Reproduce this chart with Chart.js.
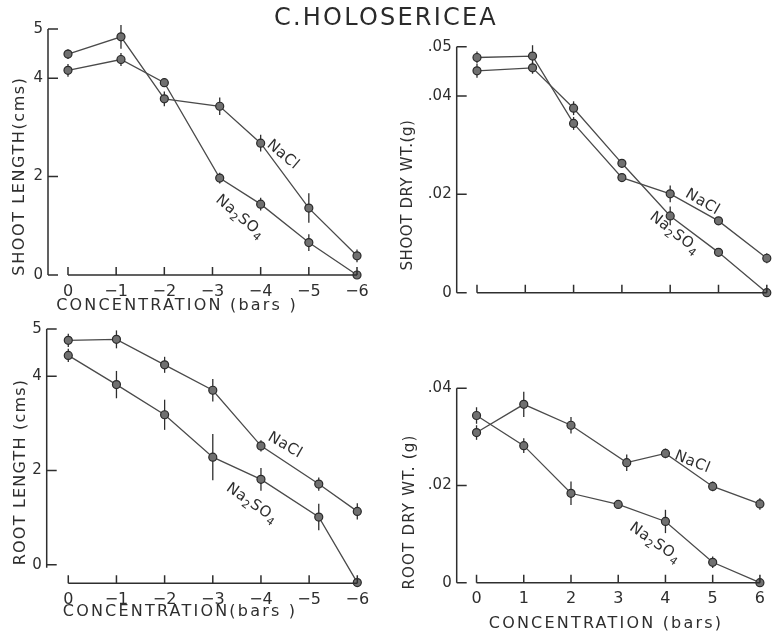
<!DOCTYPE html>
<html>
<head>
<meta charset="utf-8">
<title>C. holosericea salt response</title>
<script src="https://cdn.jsdelivr.net/npm/chart.js@4.4.1/dist/chart.umd.min.js"></script>
<style>
  body { margin: 0; background: #fff; }
  #page { position: relative; width: 772px; height: 635px; overflow: hidden; }
  #page canvas { position: absolute; }
  #title {
    position: absolute; left: 0; top: 3px; width: 772px; text-align: center;
    font: 24px "DejaVu Sans", sans-serif; letter-spacing: 2.2px; color: #2b2b2b;
  }
</style>
</head>
<body>
<div id="page">
  <canvas id="shootLen" width="386" height="315" style="left:0;top:0"></canvas>
  <canvas id="shootDry" width="386" height="315" style="left:386px;top:0"></canvas>
  <canvas id="rootLen" width="386" height="320" style="left:0;top:315px"></canvas>
  <canvas id="rootDry" width="386" height="320" style="left:386px;top:315px"></canvas>
  <div id="title">C.HOLOSERICEA</div>
</div>
<script>
// osmotic concentration of the medium (bars), one array per series
var shootLenConcNaCl   = [0, -1.1, -2, -3.15, -4, -5, -6];
var shootLenConcNa2SO4 = [0, -1.1, -2, -3.15, -4, -5, -6];
var shootDryConcNaCl   = [0, 1.15, 2, 3, 4, 5, 6];
var shootDryConcNa2SO4 = [0, 1.15, 2, 3, 4, 5, 6];
var rootLenConcNaCl    = [0, -1, -2, -3, -4, -5.2, -6];
var rootLenConcNa2SO4  = [0, -1, -2, -3, -4, -5.2, -6];
var rootDryConcNaCl    = [0, 1, 2, 3.18, 4, 5, 6];
var rootDryConcNa2SO4  = [0, 1, 2, 3, 4, 5, 6];

// shoot length (cms)
var shootLenNaCl      = [4.49, 4.84, 3.58, 3.43, 2.68, 1.36, 0.39];
var shootLenNaClErr   = [0.10, 0.24, 0.15, 0.18, 0.17, 0.30, 0.13];
var shootLenNa2SO4    = [4.16, 4.38, 3.91, 1.97, 1.44, 0.66, 0];
var shootLenNa2SO4Err = [0.13, 0.13, 0.09, 0.11, 0.13, 0.17, 0];

// shoot dry weight (g)
var shootDryNaCl      = [0.0478, 0.0481, 0.0344, 0.0234, 0.0201, 0.0146, 0.0070];
var shootDryNaClErr   = [0.0012, 0.0022, 0.0013, 0.0008, 0.0017, 0.0008, 0.0010];
var shootDryNa2SO4    = [0.0451, 0.0457, 0.0375, 0.0263, 0.0156, 0.0082, 0];
var shootDryNa2SO4Err = [0.0014, 0.0012, 0.0014, 0.0008, 0.0019, 0.0008, 0];

// root length (cms)
var rootLenNaCl       = [4.76, 4.78, 4.24, 3.70, 2.52, 1.71, 1.13];
var rootLenNaClErr    = [0.14, 0.19, 0.17, 0.24, 0.12, 0.14, 0.17];
var rootLenNa2SO4     = [4.44, 3.82, 3.18, 2.28, 1.81, 1.01, -0.38];
var rootLenNa2SO4Err  = [0.14, 0.29, 0.32, 0.49, 0.24, 0.28, 0];

// root dry weight (g)
var rootDryNaCl       = [0.0309, 0.0367, 0.0324, 0.0247, 0.0266, 0.0198, 0.0162];
var rootDryNaClErr    = [0.0015, 0.0026, 0.0017, 0.0017, 0.0010, 0.0010, 0.0012];
var rootDryNa2SO4     = [0.0344, 0.0282, 0.0184, 0.0161, 0.0126, 0.0042, 0];
var rootDryNa2SO4Err  = [0.0017, 0.0015, 0.0024, 0.0008, 0.0024, 0.0012, 0];

// tick positions
var concTicksNeg = [0, -1, -2, -3, -4, -5, -6];
var concTicksPos = [0, 1, 2, 3, 4, 5, 6];
var lengthTicks  = [0, 2, 4, 5];
var shootDryTicks = [0, 0.02, 0.04, 0.05];
var rootDryTicks  = [0, 0.02, 0.04];

var INK = '#2e2e2e';
var FONT = '"DejaVu Sans", sans-serif';

function pts(xs, ys) {
  return xs.map(function (x, i) { return { x: x, y: ys[i] }; });
}

function series(label, xs, ys, err) {
  return {
    label: label,
    data: pts(xs, ys),
    err: err,
    showLine: true,
    borderColor: '#4a4a4a',
    borderWidth: 1.3,
    pointRadius: 4,
    pointHoverRadius: 4,
    pointBackgroundColor: '#707070',
    pointBorderColor: '#2a2a2a',
    pointBorderWidth: 1.2,
    clip: false
  };
}

function fmtConc(v) {
  if (v === 0) return '0';
  return v < 0 ? '\u2212' + Math.abs(v) : String(v);
}
function fmtLen(v) { return String(v); }
function fmtWt(v) { return v === 0 ? '0' : v.toFixed(2).replace(/^0/, ''); }

// axes with inward ticks, error bars and in-plot text
var figurePlugin = {
  id: 'figure',
  beforeDatasetsDraw: function (chart) {
    var ctx = chart.ctx, xs = chart.scales.x, ys = chart.scales.y;
    ctx.save();
    ctx.strokeStyle = INK;
    ctx.lineWidth = 1.3;
    chart.data.datasets.forEach(function (ds) {
      ds.data.forEach(function (p, i) {
        var e = ds.err[i];
        if (!e) return;
        var px = xs.getPixelForValue(p.x);
        ctx.beginPath();
        ctx.moveTo(px, ys.getPixelForValue(p.y - e));
        ctx.lineTo(px, ys.getPixelForValue(p.y + e));
        ctx.stroke();
      });
    });
    ctx.restore();
  },
  afterDraw: function (chart) {
    var o = chart.options.plugins.figure;
    var ctx = chart.ctx, xs = chart.scales.x, ys = chart.scales.y;
    var area = chart.chartArea;
    ctx.save();
    ctx.strokeStyle = INK;
    ctx.lineWidth = 1.5;

    // y axis
    var x0 = area.left;
    var yTop = ys.getPixelForValue(o.yTicks[o.yTicks.length - 1]);
    var yBot = ys.getPixelForValue(0) + (o.yStub || 0);
    ctx.beginPath();
    ctx.moveTo(x0, yTop);
    ctx.lineTo(x0, yBot);
    o.yTicks.forEach(function (v) {
      var py = ys.getPixelForValue(v);
      ctx.moveTo(x0, py);
      ctx.lineTo(x0 + 10, py);
    });
    ctx.stroke();

    // x axis
    var yb = area.bottom;
    var xa = xs.getPixelForValue(o.xTicks[0]);
    var xb = xs.getPixelForValue(o.xTicks[o.xTicks.length - 1]);
    ctx.beginPath();
    ctx.moveTo(xa, yb);
    ctx.lineTo(xb, yb);
    o.xTicks.forEach(function (v) {
      var px = xs.getPixelForValue(v);
      ctx.moveTo(px, yb);
      ctx.lineTo(px, yb - 8);
    });
    ctx.stroke();

    ctx.fillStyle = INK;
    ctx.textAlign = 'center';
    ctx.textBaseline = 'middle';
    ctx.letterSpacing = '2.2px';
    ctx.font = '16px ' + FONT;
    if (o.xTitle) {
      ctx.fillText(o.xTitle.text, o.xTitle.x, o.xTitle.y);
    }
    if (o.yTitle) {
      ctx.save();
      ctx.translate(o.yTitle.x, o.yTitle.y);
      ctx.rotate(-Math.PI / 2);
      ctx.letterSpacing = (o.yTitle.spacing || 1.5) + 'px';
      ctx.font = (o.yTitle.size || 16) + 'px ' + FONT;
      ctx.fillText(o.yTitle.text, 0, 0);
      ctx.restore();
    }

    // series labels, drawn along the curves
    ctx.letterSpacing = '0.5px';
    (o.notes || []).forEach(function (n) {
      ctx.save();
      ctx.translate(xs.getPixelForValue(n.x), ys.getPixelForValue(n.y));
      ctx.rotate(n.rot * Math.PI / 180);
      var parts = n.parts;
      var big = '15px ' + FONT, small = '11px ' + FONT;
      var w = 0;
      parts.forEach(function (p) {
        ctx.font = p.sub ? small : big;
        w += ctx.measureText(p.t).width;
      });
      var cx = -w / 2;
      ctx.textAlign = 'left';
      parts.forEach(function (p) {
        ctx.font = p.sub ? small : big;
        ctx.fillText(p.t, cx, p.sub ? 5 : 0);
        cx += ctx.measureText(p.t).width;
      });
      ctx.restore();
    });
    ctx.restore();
  }
};

var NACL = [{ t: 'NaCl' }];
var NA2SO4 = [{ t: 'Na' }, { t: '2', sub: true }, { t: 'SO' }, { t: '4', sub: true }];

// the scale boxes get fixed sizes so the plot area lands where the padding puts it
function makePanel(id, cfg) {
  new Chart(document.getElementById(id), {
    type: 'scatter',
    data: { datasets: cfg.datasets },
    plugins: [figurePlugin],
    options: {
      responsive: false,
      animation: false,
      events: [],
      layout: { padding: cfg.pad },
      plugins: {
        legend: { display: false },
        tooltip: { enabled: false },
        figure: {
          xTicks: cfg.xTicks, yTicks: cfg.yTicks, yStub: cfg.yStub,
          xTitle: cfg.xTitle, yTitle: cfg.yTitle, notes: cfg.notes
        }
      },
      scales: {
        x: {
          type: 'linear', min: cfg.xMin, max: cfg.xMax, reverse: !!cfg.reverse,
          grid: { display: false, drawTicks: false }, border: { display: false },
          afterFit: function (s) { s.height = cfg.xBox; },
          afterBuildTicks: function (s) {
            s.ticks = cfg.xTicks.map(function (v) { return { value: v }; });
          },
          ticks: {
            display: cfg.xLabels !== false, autoSkip: false, maxRotation: 0,
            padding: 7, color: INK, font: { family: FONT, size: 16 },
            callback: fmtConc
          }
        },
        y: {
          type: 'linear', min: cfg.yMin, max: cfg.yMax,
          grid: { display: false, drawTicks: false }, border: { display: false },
          afterFit: function (s) { s.width = cfg.yBox; },
          afterBuildTicks: function (s) {
            s.ticks = cfg.yTicks.map(function (v) { return { value: v }; });
          },
          ticks: {
            autoSkip: false, padding: 5, color: INK,
            font: { family: FONT, size: 15 },
            callback: cfg.yFmt
          }
        }
      }
    }
  });
}

makePanel('shootLen', {
  datasets: [
    series('NaCl', shootLenConcNaCl, shootLenNaCl, shootLenNaClErr),
    series('Na2SO4', shootLenConcNa2SO4, shootLenNa2SO4, shootLenNa2SO4Err)
  ],
  pad: { left: 8, right: 29, top: 29, bottom: 10 },
  yBox: 40, xBox: 30,
  reverse: true, xMin: -6, xMax: 0.415, yMin: 0, yMax: 5,
  xTicks: concTicksNeg, yTicks: lengthTicks, yFmt: fmtLen,
  xTitle: { text: 'CONCENTRATION (bars )', x: 177, y: 306 },
  yTitle: { text: 'SHOOT LENGTH(cms)', x: 20, y: 176, spacing: 1.6 },
  notes: [
    { parts: NACL, x: -4.46, y: 2.44, rot: 40 },
    { parts: NA2SO4, x: -3.57, y: 1.18, rot: 40 }
  ]
});

makePanel('shootDry', {
  datasets: [
    series('NaCl', shootDryConcNaCl, shootDryNaCl, shootDryNaClErr),
    series('Na2SO4', shootDryConcNa2SO4, shootDryNa2SO4, shootDryNa2SO4Err)
  ],
  pad: { left: 20.7, right: 2, top: 46.7, bottom: 2.3 },
  yBox: 50, xBox: 20,
  xMin: -0.42, xMax: 6, yMin: 0, yMax: 0.05,
  xTicks: concTicksPos, xLabels: false, yTicks: shootDryTicks, yFmt: fmtWt,
  yTitle: { text: 'SHOOT DRY WT.(g)', x: 22, y: 195, size: 15, spacing: 0.6 },
  notes: [
    { parts: NACL, x: 4.67, y: 0.0184, rot: 30 },
    { parts: NA2SO4, x: 4.09, y: 0.0121, rot: 38 }
  ]
});

makePanel('rootLen', {
  datasets: [
    series('NaCl', rootLenConcNaCl, rootLenNaCl, rootLenNaClErr),
    series('Na2SO4', rootLenConcNa2SO4, rootLenNa2SO4, rootLenNa2SO4Err)
  ],
  pad: { left: 6.7, right: 28.7, top: 9.3, bottom: 21.7 },
  yBox: 40, xBox: 30,
  reverse: true, xMin: -6, xMax: 0.448, yMin: -0.396, yMax: 5, yStub: 3,
  xTicks: concTicksNeg, yTicks: lengthTicks, yFmt: fmtLen,
  xTitle: { text: 'CONCENTRATION(bars )', x: 180, y: 297 },
  yTitle: { text: 'ROOT LENGTH (cms)', x: 21, y: 157, spacing: 1.2 },
  notes: [
    { parts: NACL, x: -4.5, y: 2.53, rot: 30 },
    { parts: NA2SO4, x: -3.81, y: 1.30, rot: 35 }
  ]
});

makePanel('rootDry', {
  datasets: [
    series('NaCl', rootDryConcNaCl, rootDryNaCl, rootDryNaClErr),
    series('Na2SO4', rootDryConcNa2SO4, rootDryNa2SO4, rootDryNa2SO4Err)
  ],
  pad: { left: 20.7, right: 2, top: 73.3, bottom: 22.3 },
  yBox: 50, xBox: 30,
  xMin: -0.42, xMax: 6, yMin: 0, yMax: 0.04,
  xTicks: concTicksPos, yTicks: rootDryTicks, yFmt: fmtWt,
  xTitle: { text: 'CONCENTRATION (bars)', x: 220, y: 309 },
  yTitle: { text: 'ROOT DRY WT. (g)', x: 24, y: 197, size: 15, spacing: 1.2 },
  notes: [
    { parts: NACL, x: 4.57, y: 0.0248, rot: 22 },
    { parts: NA2SO4, x: 3.78, y: 0.0082, rot: 35 }
  ]
});
</script>
</body>
</html>
